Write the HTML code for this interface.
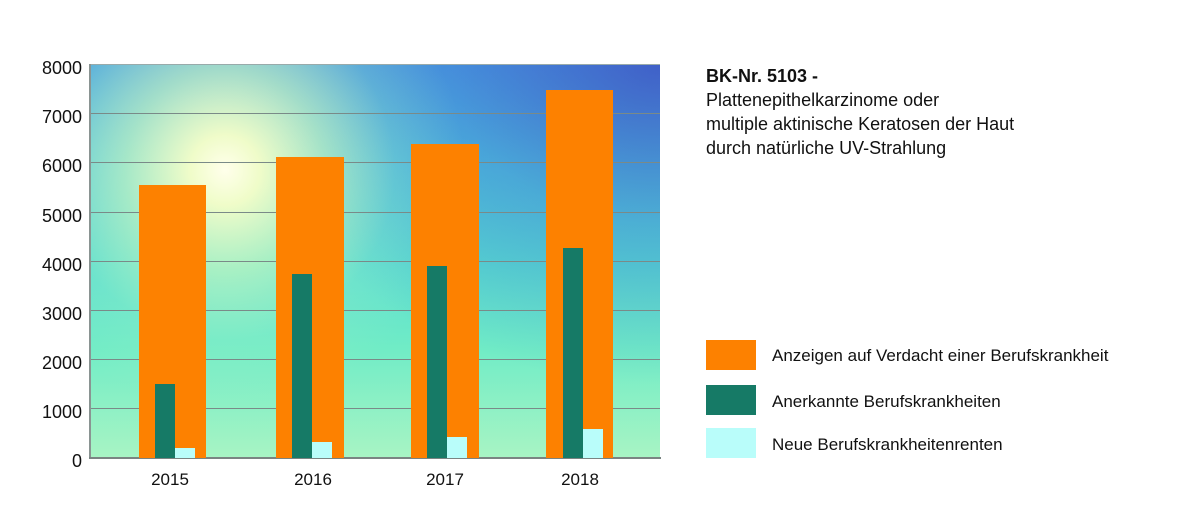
<!DOCTYPE html>
<html><head><meta charset="utf-8"><style>
body{margin:0;width:1200px;height:516px;background:#fff;position:relative;overflow:hidden;font-family:"Liberation Sans",sans-serif;color:#111}
.plot{position:absolute;left:90px;top:64px;width:570px;height:394px;
background:
radial-gradient(circle at 135px 106px,rgba(255,255,235,1) 0,rgba(248,255,200,.95) 35px,rgba(210,250,190,.65) 100px,rgba(160,240,200,.25) 170px,rgba(160,240,200,0) 240px),
radial-gradient(ellipse 420px 320px at 570px 0px,rgba(60,70,190,.7) 0%,rgba(60,110,210,.35) 50%,rgba(60,110,210,0) 100%),
linear-gradient(to bottom,#4a9ee0 0%,#50c4dc 25%,#58dcd0 50%,#70ecc6 72%,#a8f4c4 100%);}
.g{position:absolute;left:90px;width:570px;height:1px;background:#7a8a88}
.yl{position:absolute;left:20px;width:62px;text-align:right;font-size:18px;line-height:20px}
.b{position:absolute}
.o{background:#fd8100}.d{background:#167a66}.c{background:#b9fdfa}
.xl{position:absolute;top:470px;font-size:17px;width:60px;text-align:center}
.lg{position:absolute;left:706px;width:50px;height:30px}
.lt{position:absolute;left:772px;font-size:17px}
</style></head><body>
<div class="plot"></div>
<div class="g" style="top:113px"></div><div class="g" style="top:162px"></div><div class="g" style="top:212px"></div><div class="g" style="top:261px"></div><div class="g" style="top:310px"></div><div class="g" style="top:359px"></div><div class="g" style="top:408px"></div>
<div style="position:absolute;left:90px;top:64px;width:570px;height:1px;background:#9aa"></div>
<div style="position:absolute;left:89px;top:64px;width:2px;height:395px;background:#8a9492"></div>
<div style="position:absolute;left:89px;top:457px;width:572px;height:2px;background:#7a8482"></div>
<div class="yl" style="top:58px">8000</div><div class="yl" style="top:107px">7000</div><div class="yl" style="top:156px">6000</div><div class="yl" style="top:206px">5000</div><div class="yl" style="top:255px">4000</div><div class="yl" style="top:304px">3000</div><div class="yl" style="top:353px">2000</div><div class="yl" style="top:402px">1000</div><div class="yl" style="top:451px">0</div>
<div class="b o" style="left:139px;top:185px;width:67px;height:273px"></div>
<div class="b d" style="left:155px;top:384px;width:20px;height:74px"></div>
<div class="b c" style="left:175px;top:448px;width:20px;height:10px"></div>
<div class="b o" style="left:276px;top:157px;width:68px;height:301px"></div>
<div class="b d" style="left:292px;top:274px;width:20px;height:184px"></div>
<div class="b c" style="left:312px;top:442px;width:20px;height:16px"></div>
<div class="b o" style="left:411px;top:144px;width:68px;height:314px"></div>
<div class="b d" style="left:427px;top:266px;width:20px;height:192px"></div>
<div class="b c" style="left:447px;top:437px;width:20px;height:21px"></div>
<div class="b o" style="left:546px;top:90px;width:67px;height:368px"></div>
<div class="b d" style="left:563px;top:248px;width:20px;height:210px"></div>
<div class="b c" style="left:583px;top:429px;width:20px;height:29px"></div>
<div class="xl" style="left:140px">2015</div><div class="xl" style="left:283px">2016</div><div class="xl" style="left:415px">2017</div><div class="xl" style="left:550px">2018</div>
<div style="position:absolute;left:706px;top:64px;font-size:18px;line-height:24px"><b>BK-Nr. 5103 -</b><br>Plattenepithelkarzinome oder<br>multiple aktinische Keratosen der Haut<br>durch natürliche UV-Strahlung</div>
<div class="lg o" style="top:340px"></div><div class="lt" style="top:346px">Anzeigen auf Verdacht einer Berufskrankheit</div>
<div class="lg d" style="top:385px"></div><div class="lt" style="top:392px">Anerkannte Berufskrankheiten</div>
<div class="lg c" style="top:428px"></div><div class="lt" style="top:435px">Neue Berufskrankheitenrenten</div>
</body></html>
